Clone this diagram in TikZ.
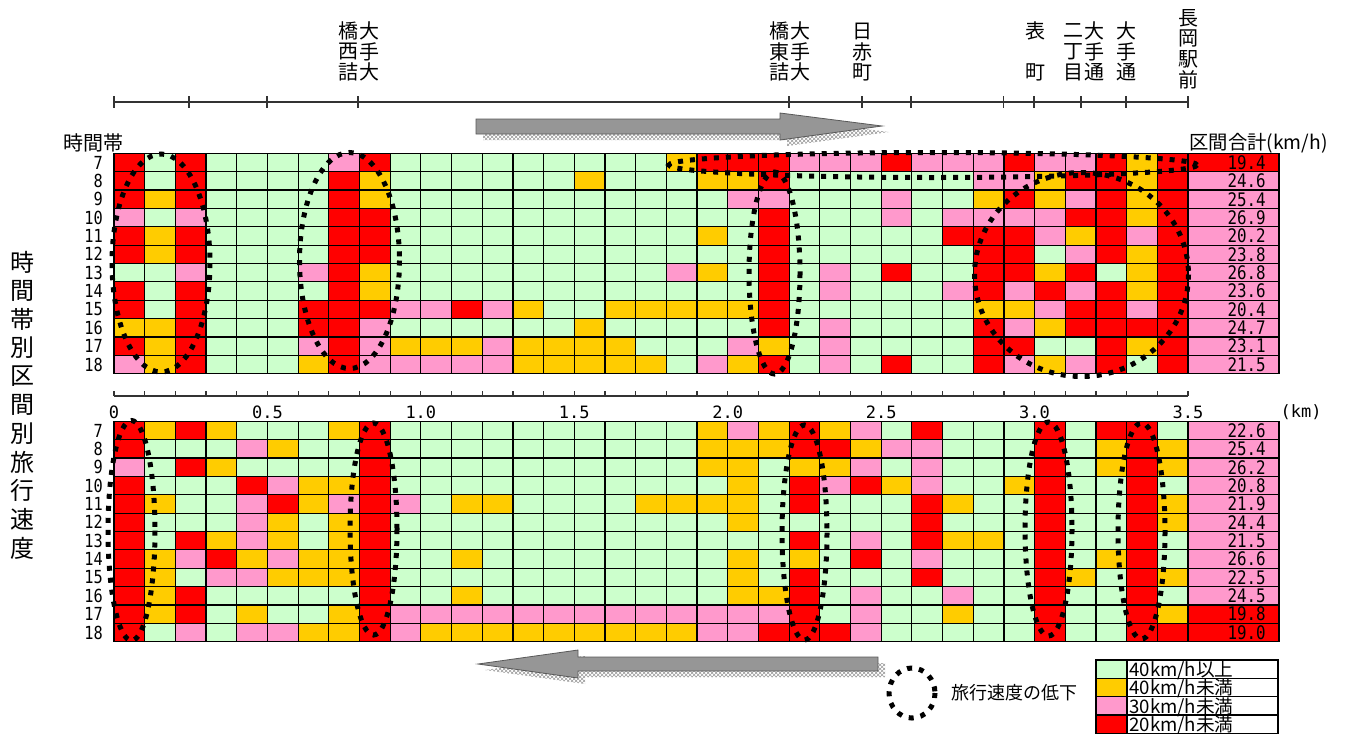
\documentclass[tikz,border=0pt]{standalone}
\usepackage{fontspec}
\setmainfont{Noto Sans CJK JP}
\newfontfamily\numfont[FakeStretch=0.85]{DejaVu Sans Mono}
\newfontfamily\axfont{DejaVu Sans Mono}
\usetikzlibrary{patterns}
\definecolor{cR}{HTML}{FF0000}
\definecolor{cG}{HTML}{CCFFCC}
\definecolor{cY}{HTML}{FFCC00}
\definecolor{cP}{HTML}{FF99CC}
\definecolor{arrowgray}{HTML}{969696}
\def\topdata{%
{R,G,R,G,G, G,G,P,R,G, G,G,G,G,G, G,G,G,Y,R, R,R,P,P,P, R,P,P,P,R, P,P,R,Y,R},%
{R,G,R,G,G, G,G,R,Y,G, G,G,G,G,G, Y,G,G,G,Y, Y,R,G,G,G, G,G,G,P,P, Y,R,R,Y,R},%
{R,Y,R,G,G, G,G,R,Y,G, G,G,G,G,G, G,G,G,G,G, P,P,G,G,G, P,G,G,Y,R, Y,P,R,Y,R},%
{P,G,P,G,G, G,G,R,R,G, G,G,G,G,G, G,G,G,G,G, G,R,G,G,G, P,G,P,P,P, P,R,R,Y,R},%
{R,Y,R,G,G, G,G,R,R,G, G,G,G,G,G, G,G,G,G,Y, G,R,G,G,G, G,G,R,R,R, P,Y,R,P,R},%
{R,Y,R,G,G, G,G,R,R,G, G,G,G,G,G, G,G,G,G,G, G,R,G,G,G, G,G,G,R,R, G,P,R,Y,R},%
{G,G,P,G,G, G,P,R,Y,G, G,G,G,G,G, G,G,G,P,Y, G,R,G,P,G, R,G,G,R,R, Y,R,G,Y,R},%
{R,G,R,G,G, G,G,R,Y,G, G,G,G,G,G, G,G,G,G,G, G,R,G,P,G, G,G,P,R,P, R,P,R,Y,R},%
{R,G,R,G,G, G,R,R,R,P, P,R,P,Y,G, G,Y,Y,Y,Y, Y,R,G,G,G, G,G,G,Y,Y, P,R,R,P,R},%
{Y,Y,R,G,G, G,R,R,P,G, G,G,G,G,G, Y,G,G,G,G, G,R,G,P,G, G,G,G,R,P, Y,R,R,R,R},%
{R,Y,R,G,G, G,P,R,P,Y, Y,Y,P,Y,Y, Y,Y,G,G,G, P,Y,G,P,G, G,G,G,R,R, G,G,R,Y,R},%
{P,Y,R,G,G, G,Y,R,P,P, P,P,P,Y,Y, Y,Y,Y,G,P, Y,R,G,P,G, R,G,G,R,P, Y,P,R,G,R}}
\def\botdata{%
{R,Y,R,Y,G, G,G,Y,R,G, G,G,G,G,G, G,G,G,G,Y, P,Y,R,Y,P, G,R,G,G,G, R,G,R,R,G},%
{R,G,G,G,P, Y,G,G,R,G, G,G,G,G,G, G,G,G,G,Y, Y,Y,R,R,Y, P,P,G,G,G, R,G,Y,R,Y},%
{P,G,R,Y,G, G,G,G,R,G, G,G,G,G,G, G,G,G,G,Y, Y,G,Y,Y,P, G,P,G,G,G, R,G,Y,R,Y},%
{R,G,G,G,R, P,Y,Y,R,G, G,G,G,G,G, G,G,G,G,G, Y,G,R,P,R, Y,P,G,G,Y, R,G,G,R,G},%
{R,Y,G,G,P, R,Y,P,R,P, G,Y,Y,G,G, G,G,Y,Y,Y, Y,G,R,G,G, G,R,Y,G,G, R,G,G,R,Y},%
{R,G,G,G,P, Y,G,Y,R,G, G,G,G,G,G, G,G,G,G,G, Y,G,G,G,G, G,R,G,G,G, R,G,G,R,Y},%
{R,G,R,Y,P, Y,G,Y,R,G, G,G,G,G,G, G,G,G,G,G, G,G,R,G,P, G,R,Y,Y,G, R,G,G,R,G},%
{R,Y,P,R,Y, P,Y,Y,R,G, G,Y,G,G,G, G,G,G,G,G, Y,G,Y,G,R, G,P,G,G,G, R,G,Y,R,G},%
{R,Y,G,P,P, Y,Y,Y,R,G, G,G,G,G,G, G,G,G,G,G, Y,G,R,G,G, G,R,G,G,G, R,Y,G,R,Y},%
{R,Y,R,G,G, G,G,G,R,G, G,Y,G,G,G, G,G,G,G,G, Y,Y,R,G,P, G,G,P,G,G, R,G,G,R,G},%
{R,Y,R,G,Y, G,G,Y,R,P, P,P,P,P,P, P,P,P,P,P, P,P,R,G,P, G,G,Y,G,G, R,G,G,R,Y},%
{R,G,P,G,P, P,Y,Y,R,P, Y,Y,Y,Y,Y, Y,Y,Y,Y,P, P,R,R,R,P, G,G,G,G,G, R,G,G,R,R}}
\begin{document}
\begin{tikzpicture}[x=0.75pt,y=-0.75pt,
  cell/.style={draw=black, line width=0.9pt},
  lowdot/.style={draw=black, line width=3.75pt, dash pattern=on 3.75pt off 5.25pt},
  stn/.style={font=\fontsize{15}{15}\selectfont, inner sep=0pt},
  rowlab/.style={font=\numfont\fontsize{13.5}{13.5}\selectfont, anchor=east, inner sep=0pt},
  sumlab/.style={font=\numfont\fontsize{14}{14}\selectfont, anchor=east, inner sep=0pt},
  axlab/.style={font=\axfont\fontsize{12.75}{12.75}\selectfont, inner sep=0pt},
  headlab/.style={font=\fontsize{14.5}{14.5}\selectfont, inner sep=0pt},
  legtext/.style={font=\fontsize{14}{14}\selectfont, anchor=west, inner sep=0pt},
  vtitle/.style={font=\fontsize{18}{18}\selectfont, inner sep=0pt},
  bigarrow/.style={fill=arrowgray, draw=black!65, line width=0.6pt},
  arrowshadow/.style={pattern=crosshatch, pattern color=black!40, draw=none},
  axisline/.style={draw=black!80, line width=0.9pt}]
\useasboundingbox (0,0) rectangle (1348,733);

% ---- arrows ----
\fill[arrowshadow] (483,125) -- (787,125) -- (787,119) -- (889,132) -- (787,146) -- (787,140) -- (483,140) -- cycle;
\draw[bigarrow] (476,119) -- (780,119) -- (780,113) -- (882,126) -- (780,140) -- (780,134) -- (476,134) -- cycle;
\fill[arrowshadow] (885,663) -- (585,663) -- (585,656) -- (485,670) -- (585,684) -- (585,677) -- (885,677) -- cycle;
\draw[bigarrow] (878,657) -- (578,657) -- (578,650) -- (478,664) -- (578,678) -- (578,671) -- (878,671) -- cycle;

% ---- grids ----
\foreach \row [count=\j from 0] in \topdata {
  \foreach \cc [count=\i from 0] in \row {
    \filldraw[cell, fill=c\cc] ({114+\i*30.686},{153.3+\j*18.36}) rectangle ++(30.686,18.36);
  }
}
\foreach \row [count=\j from 0] in \botdata {
  \foreach \cc [count=\i from 0] in \row {
    \filldraw[cell, fill=c\cc] ({114+\i*30.686},{421.3+\j*18.36}) rectangle ++(30.686,18.36);
  }
}
% ---- section totals ----
\foreach \v/\sc [count=\j from 0] in {19.4/R,24.6/P,25.4/P,26.9/P,20.2/P,23.8/P,26.8/P,23.6/P,20.4/P,24.7/P,23.1/P,21.5/P} {
  \filldraw[cell, fill=c\sc] (1188,{153.3+\j*18.36}) rectangle ++(91,18.36);
  \node[sumlab] (ts\j) at (1266,{153.3+(\j+0.5)*18.36}) {\v};
}
\foreach \v/\sc [count=\j from 0] in {22.6/P,25.4/P,26.2/P,20.8/P,21.9/P,24.4/P,21.5/P,26.6/P,22.5/P,24.5/P,19.8/R,19.0/R} {
  \filldraw[cell, fill=c\sc] (1188,{421.3+\j*18.36}) rectangle ++(91,18.36);
  \node[sumlab] (bs\j) at (1266,{421.3+(\j+0.5)*18.36}) {\v};
}
% ---- row labels ----
\foreach \h [count=\j from 0] in {7,8,9,10,11,12,13,14,15,16,17,18} {
  \node[rowlab] (tr\j) at (103,{153.3+(\j+0.5)*18.36}) {\h};
  \node[rowlab] (br\j) at (103,{421.3+(\j+0.5)*18.36}) {\h};
}
\node[headlab, font=\fontsize{15}{15}\selectfont] (jikan) at (93,143) {時間帯};
\node[headlab] (kukan) at (1258.5,143) {区間合計(km/h)};

% ---- dotted ellipses ----
\draw[lowdot] (161,263) ellipse [x radius=49, y radius=109];
\draw[lowdot] (349.5,260.5) ellipse [x radius=50, y radius=108];
\draw[lowdot] (774.5,273) ellipse [x radius=25.5, y radius=101];
\draw[lowdot] (933,165) ellipse [x radius=264, y radius=12.5];
\draw[lowdot] (1081.5,274.5) ellipse [x radius=107, y radius=102];
\draw[lowdot] (131.5,530.5) ellipse [x radius=23.5, y radius=110];
\draw[lowdot] (373.5,529) ellipse [x radius=23.5, y radius=106];
\draw[lowdot] (804.5,532.5) ellipse [x radius=22.5, y radius=107.5];
\draw[lowdot] (1048.5,529) ellipse [x radius=23.5, y radius=107];
\draw[lowdot] (1141.5,531) ellipse [x radius=23.5, y radius=108];

% ---- top station axis ----
\draw[axisline] (114,102) -- (1188,102);
\foreach \x in {114,189,267,358,789,862,911,1003.5,1034,1081,1126,1188}
  \draw[axisline] (\x,96) -- (\x,108);
\foreach \t/\x/\y [count=\k] in {
  大/369/31, 手/369/51.5, 大/369/72, 橋/348/31, 西/348/51.5, 詰/348/72,
  大/800/31, 手/800/51.5, 大/800/72, 橋/779/31, 東/779/51.5, 詰/779/72,
  日/862/31, 赤/862/51.5, 町/862/72,
  表/1035/31, 町/1035/72,
  大/1094/31, 手/1094/51.5, 通/1094/72, 二/1073/31, 丁/1073/51.5, 目/1073/72,
  大/1126/31, 手/1126/51.5, 通/1126/72,
  長/1188/18, 岡/1188/38.5, 駅/1188/59, 前/1188/79.5}
  \node[stn] (st\k) at (\x,\y) {\t};

% ---- distance axis ----
\draw[axisline] (114,396) -- (1188,396);
\foreach \k in {0,...,35}
  \draw[axisline] ({114+\k*30.686},391) -- ++(0,5);
\foreach \l [count=\k from 0] in {0,0.5,1.0,1.5,2.0,2.5,3.0,3.5}
  \node[axlab] (ax\k) at ({114+\k*153.43},412) {\l};
\node[axlab] (kmunit) at (1301,412) {(km)};

% ---- vertical title ----
\foreach \t [count=\k from 0] in {時,間,帯,別,区,間,別,旅,行,速,度}
  \node[vtitle] (vt\k) at (22,{262+\k*28.6}) {\t};

% ---- legend ----
\draw[lowdot] (912,693) ellipse [x radius=23, y radius=25];
\node[font=\fontsize{13.5}{13.5}\selectfont, inner sep=0pt] (lowtxt) at (1014.5,693) {旅行速度の低下};
\foreach \cc/\t [count=\k from 0] in {G/{40km/h以上}, Y/{40km/h未満}, P/{30km/h未満}, R/{20km/h未満}} {
  \filldraw[cell, fill=c\cc] (1096,{660+\k*18.33}) rectangle (1127,{660+(\k+1)*18.33});
  \draw[cell] (1127,{660+\k*18.33}) rectangle (1278,{660+(\k+1)*18.33});
  \node[legtext] (lg\k) at (1129,{660+(\k+0.5)*18.33+1}) {\t};
}
\end{tikzpicture}
\end{document}
